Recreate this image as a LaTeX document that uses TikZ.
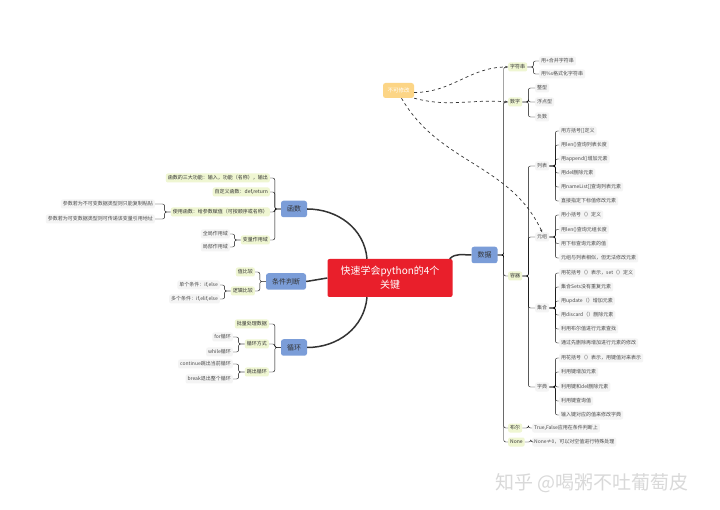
\documentclass[tikz,border=0pt]{standalone}
\usepackage{fontspec}
\setmainfont{Noto Sans CJK SC}
\usetikzlibrary{arrows.meta}

\definecolor{rootred}{HTML}{E91F2B}
\definecolor{topicblue}{HTML}{7B9DD8}
\definecolor{subgreen}{HTML}{EFF6D2}
\definecolor{leafgray}{HTML}{F4F4F4}
\definecolor{immorange}{HTML}{FCD586}
\definecolor{linegray}{HTML}{333333}

\begin{document}
\begin{tikzpicture}[x=1pt,y=-1pt,>={Stealth[length=3pt]},
  root/.style={fill=rootred,text=white,rounded corners=2pt,minimum width=125,minimum height=38,
    text width=115,align=center,inner sep=0pt,font=\fontsize{10}{14}\selectfont},
  topic/.style={fill=topicblue,text=black!80,rounded corners=2.5pt,minimum height=16.5,
    inner xsep=6pt,inner ysep=0pt,font=\fontsize{7}{8}\selectfont},
  sub/.style={fill=subgreen,text=black!80,rounded corners=2pt,minimum height=9,
    inner xsep=2pt,inner ysep=0pt,font=\fontsize{5}{6}\selectfont},
  leaf/.style={fill=leafgray,text=black!70,rounded corners=2pt,minimum height=9,
    inner xsep=2pt,inner ysep=0pt,font=\fontsize{5}{6}\selectfont},
  imm/.style={fill=immorange,text=white,rounded corners=2.5pt,minimum width=31,minimum height=15,
    inner sep=0pt,font=\fontsize{5.5}{6}\selectfont},
  main/.style={linegray,line width=1.5pt},
  brR/.style={linegray,line width=1pt,rounded corners=2pt,to path={-- ++(6,0) |- (\tikztotarget)}},
  brL/.style={linegray,line width=1pt,rounded corners=2pt,to path={-- ++(-6,0) |- (\tikztotarget)}},
  immlink/.style={linegray,dashed,line width=0.7pt,->}]

  \fill[white] (0,0) rectangle (720,510);
  \useasboundingbox (0,0) rectangle (720,510);

  % centre and main topics
  \node[root] (root) at (390,278) {快速学会python的4个\\关键};
  \node[topic] (data) at (484.5,255) {数据};
  \node[topic] (func) at (294,209) {函数};
  \node[topic] (cond) at (286,281.5) {条件判断};
  \node[topic] (loop) at (294,347.5) {循环};
  \draw[main] ([xshift=-3pt]root.north east) to[out=45,in=180] (data.west);
  \draw[main] (func.east) to[out=0,in=95] ([xshift=-23pt]root.north);
  \draw[main] (cond.east) -- (root.west);
  \draw[main] (loop.east) to[out=0,in=-95] ([xshift=-23pt]root.south);

  % data
  \node[sub,anchor=west] (str) at (508,67) {字符串};
  \node[sub,anchor=west] (num) at (508,102) {数字};
  \node[sub,anchor=west] (cont) at (508,276) {容器};
  \node[sub,anchor=west] (bool) at (508,428) {布尔};
  \node[sub,anchor=west] (none) at (508,442) {None};
  \foreach \c in {str,num,cont,bool,none}
    \draw (data.east) to[brR] (\c.west);

  \node[leaf,anchor=west] (str1) at (539,61) {用+合并字符串};
  \node[leaf,anchor=west] (str2) at (539,74) {用\%s格式化字符串};
  \foreach \c in {str1,str2}
    \draw (str.east) to[brR] (\c.west);

  \node[leaf,anchor=west] (num1) at (535,88) {整型};
  \node[leaf,anchor=west] (num2) at (535,102) {浮点型};
  \node[leaf,anchor=west] (num3) at (535,117) {负数};
  \foreach \c in {num1,num2,num3}
    \draw (num.east) to[brR] (\c.west);

  \node[leaf,anchor=west] (boolx) at (532,428) {True,False应用在条件判断上};
  \node[leaf,anchor=west] (nonex) at (532,442) {None≠0，可以对空值进行特殊处理};
  \draw (bool.east) to[brR] (boolx.west);
  \draw (none.east) to[brR] (nonex.west);

  % containers
  \node[leaf,anchor=west] (list) at (535,166) {列表};
  \node[leaf,anchor=west] (tuple) at (535,237) {元组};
  \node[leaf,anchor=west] (set) at (535,308) {集合};
  \node[leaf,anchor=west] (dict) at (535,387) {字典};
  \foreach \c in {list,tuple,set,dict}
    \draw (cont.east) to[brR] (\c.west);

  \node[leaf,anchor=west] (list1) at (559,131) {用方括号[]定义};
  \node[leaf,anchor=west] (list2) at (559,145) {用len()查询列表长度};
  \node[leaf,anchor=west] (list3) at (559,159) {用append()增加元素};
  \node[leaf,anchor=west] (list4) at (559,173) {用del删除元素};
  \node[leaf,anchor=west] (list5) at (559,187) {用nameList[]查询列表元素};
  \node[leaf,anchor=west] (list6) at (559,201) {直接指定下标值修改元素};
  \foreach \c in {list1,list2,list3,list4,list5,list6}
    \draw (list.east) to[brR] (\c.west);

  \node[leaf,anchor=west] (tuple1) at (559,215) {用小括号（）定义};
  \node[leaf,anchor=west] (tuple2) at (559,229.5) {用len()查询元组长度};
  \node[leaf,anchor=west] (tuple3) at (559,243.5) {用下标查询元素的值};
  \node[leaf,anchor=west] (tuple4) at (559,258) {元组与列表相似，但无法修改元素};
  \foreach \c in {tuple1,tuple2,tuple3,tuple4}
    \draw (tuple.east) to[brR] (\c.west);

  \node[leaf,anchor=west] (set1) at (559,273) {用花括号（）表示，set（）定义};
  \node[leaf,anchor=west] (set2) at (559,287) {集合Sets没有重复元素};
  \node[leaf,anchor=west] (set3) at (559,301) {用update（）增加元素};
  \node[leaf,anchor=west] (set4) at (559,315) {用discard（）删除元素};
  \node[leaf,anchor=west] (set5) at (559,329) {利用布尔值进行元素查找};
  \node[leaf,anchor=west] (set6) at (559,343) {通过先删除再增加进行元素的修改};
  \foreach \c in {set1,set2,set3,set4,set5,set6}
    \draw (set.east) to[brR] (\c.west);

  \node[leaf,anchor=west] (dict1) at (559,358) {用花括号（）表示，用键值对来表示};
  \node[leaf,anchor=west] (dict2) at (559,372) {利用键增加元素};
  \node[leaf,anchor=west] (dict3) at (559,387) {利用键和del删除元素};
  \node[leaf,anchor=west] (dict4) at (559,401) {利用键查询值};
  \node[leaf,anchor=west] (dict5) at (559,415) {输入键对应的值来修改字典};
  \foreach \c in {dict1,dict2,dict3,dict4,dict5}
    \draw (dict.east) to[brR] (\c.west);

  % immutable
  \node[imm] (immut) at (398.5,90.5) {不可修改};
  \draw[immlink] ([yshift=-2pt]immut.east) to[out=0,in=180] (str.west);
  \draw[immlink] (immut.south east) to[out=-15,in=175] (num.west);
  \draw[immlink] ([xshift=3pt]immut.south) to[out=-60,in=115] (tuple.north);

  % functions
  \node[sub,anchor=east] (func1) at (270,178) {函数的三大功能：输入，功能（名称），输出};
  \node[sub,anchor=east] (func2) at (270,192) {自定义函数：def,return};
  \node[sub,anchor=east] (func3) at (270,212) {使用函数：给参数赋值（可按顺序或名称）};
  \node[sub,anchor=east] (func4) at (270,240) {变量作用域};
  \foreach \c in {func1,func2,func3,func4}
    \draw (func.west) to[brL] (\c.east);

  \node[leaf,anchor=east] (arg1) at (155,204) {参数若为不可变数据类型则只能复制粘贴};
  \node[leaf,anchor=east] (arg2) at (155,219) {参数若为可变数据类型则可传递该变量引用地址};
  \foreach \c in {arg1,arg2}
    \draw (func3.west) to[brL] (\c.east);

  \node[leaf,anchor=east] (scope1) at (230,234) {全局作用域};
  \node[leaf,anchor=east] (scope2) at (230,247) {局部作用域};
  \foreach \c in {scope1,scope2}
    \draw (func4.west) to[brL] (\c.east);

  % conditions
  \node[sub,anchor=east] (cond1) at (255,272) {值比较};
  \node[sub,anchor=east] (cond2) at (255,291) {逻辑比较};
  \foreach \c in {cond1,cond2}
    \draw (cond.west) to[brL] (\c.east);

  \node[leaf,anchor=east] (logic1) at (220,285) {单个条件：if,else};
  \node[leaf,anchor=east] (logic2) at (220,299) {多个条件：if,elif,else};
  \foreach \c in {logic1,logic2}
    \draw (cond2.west) to[brL] (\c.east);

  % loops
  \node[sub,anchor=east] (loop1) at (269,324) {批量处理数据};
  \node[sub,anchor=east] (loop2) at (269,344) {循环方式};
  \node[sub,anchor=east] (loop3) at (269,372) {跳出循环};
  \foreach \c in {loop1,loop2,loop3}
    \draw (loop.west) to[brL] (\c.east);

  \node[leaf,anchor=east] (way1) at (233,337) {for循环};
  \node[leaf,anchor=east] (way2) at (233,352) {while循环};
  \foreach \c in {way1,way2}
    \draw (loop2.west) to[brL] (\c.east);

  \node[leaf,anchor=east] (exit1) at (233,364) {continue跳出当前循环};
  \node[leaf,anchor=east] (exit2) at (233,379) {break退出整个循环};
  \foreach \c in {exit1,exit2}
    \draw (loop3.west) to[brL] (\c.east);

  \node[text=black!15,font=\fontsize{19}{21}\selectfont] (wm) at (592,483) {知乎 @喝粥不吐葡萄皮};
\end{tikzpicture}
\end{document}
